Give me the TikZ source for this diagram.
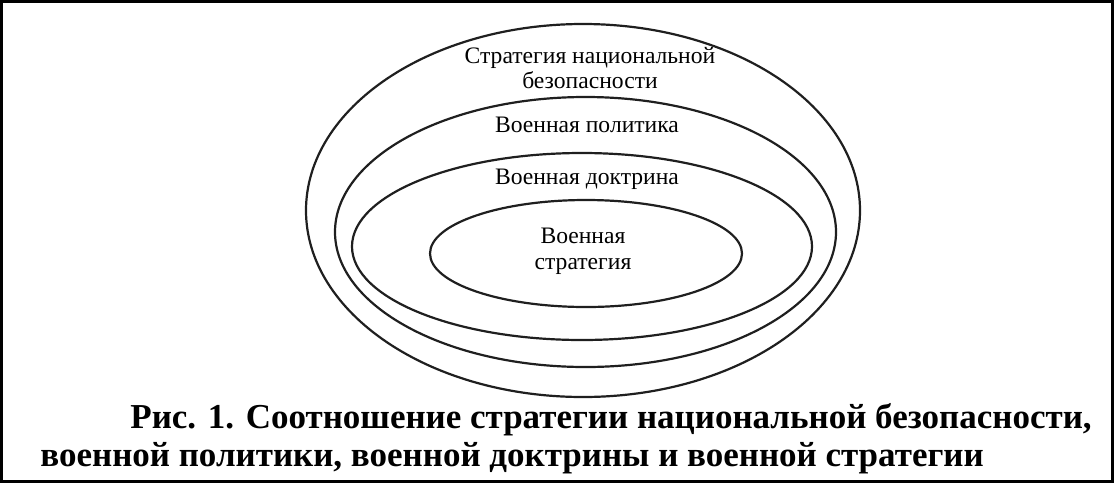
\documentclass[tikz,border=0pt]{standalone}
\usepackage{fontspec}
\setmainfont{Liberation Serif}
\usetikzlibrary{positioning}

\tikzset{
	ring/.style={draw=black!88, line width=1.1pt},
	zone/.style={font=\fontsize{11.8}{12.8}\selectfont, align=center, inner sep=0pt},
	capline/.style={font=\fontsize{17.5}{20}\selectfont\bfseries, anchor=base west, inner sep=0pt}
}

\begin{document}
\begin{tikzpicture}[x=0.5pt,y=-0.5pt]
	\useasboundingbox (0,0) rectangle (1114,483);
	\draw[line width=1.5pt] (1.5,1.5) rectangle (1112.5,481.5);
	% nested rings
	\draw[ring] (583,210.5) ellipse [x radius=277, y radius=186.5];
	\draw[ring] (585.5,232) ellipse [x radius=250.5, y radius=135];
	\draw[ring] (582,246.5) ellipse [x radius=230, y radius=93.5];
	\draw[ring] (586,253.5) ellipse [x radius=156, y radius=53.5];
	% labels
	\node[zone] (nss) at (590,68) {Стратегия национальной\\безопасности};
	\node[zone, anchor=base] (policy) at (587,132) {Военная политика};
	\node[zone, anchor=base] (doctrine) at (587,184) {Военная доктрина};
	\node[zone] (strategy) at (583,251) {Военная\\стратегия};
	% caption
	\node[capline] (cap1) at (130,428) {Рис. 1. Соотношение стратегии национальной безопасности,};
	\node[capline] (cap2) at (40,466) {военной политики, военной доктрины и военной стратегии};
\end{tikzpicture}
\end{document}
